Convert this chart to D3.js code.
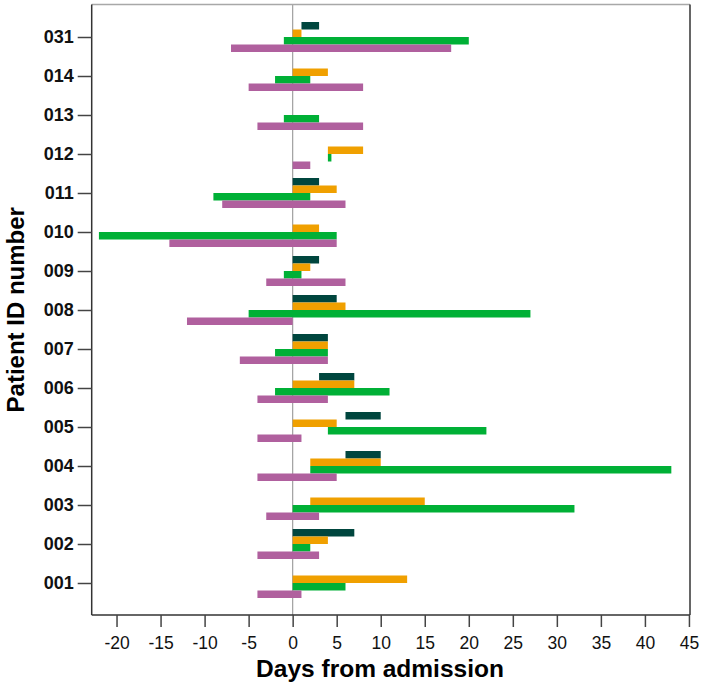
<!DOCTYPE html>
<html>
<head>
<meta charset="utf-8">
<script src="https://cdn.jsdelivr.net/npm/d3@7"></script>
<style>
  html, body { margin: 0; padding: 0; background: #fff; }
  svg { display: block; font-family: "Liberation Sans", Arial, sans-serif; }
</style>
</head>
<body>
<svg id="chart" width="703" height="689"></svg>
<script>
// ---- Data (bottom to top) ----
const patients = ["001","002","003","004","005","006","007","008","009","010","011","012","013","014","031"];
// [start, end] in days from admission; null = no bar
const seriesTeal   = [null,[0,7],null,[6,10],[6,10],[3,7],[0,4],[0,5],[0,3],null,[0,3],null,null,null,[1,3]];
const seriesOrange = [[0,13],[0,4],[2,15],[2,10],[0,5],[0,7],[0,4],[0,6],[0,2],[0,3],[0,5],[4,8],null,[0,4],[0,1]];
const seriesGreen  = [[0,6],[0,2],[0,32],[2,43],[4,22],[-2,11],[-2,4],[-5,27],[-1,1],[-22,5],[-9,2],[4,4.4],[-1,3],[-2,2],[-1,20]];
const seriesPurple = [[-4,1],[-4,3],[-3,3],[-4,5],[-4,1],[-4,4],[-6,4],[-12,0],[-3,6],[-14,5],[-8,6],[0,2],[-4,8],[-5,8],[-7,18]];
const seriesColors = ["#00463e", "#f0a000", "#00b036", "#b0609e"];
const xTicks = [-20,-15,-10,-5,0,5,10,15,20,25,30,35,40,45];

const allSeries = [seriesTeal, seriesOrange, seriesGreen, seriesPurple];

const svg = d3.select("#chart");
const pLeft = 91.7, pRight = 690, pTop = 4.5, pBottom = 615;

const x = d3.scaleLinear().domain([-22.82, 45.12]).range([pLeft, pRight]);
const y = d3.scalePoint().domain(patients).range([583, 37]);
const barH = 7.5;

// zero line
svg.append("line")
  .attr("x1", x(0)).attr("x2", x(0))
  .attr("y1", pTop).attr("y2", pBottom)
  .attr("stroke", "#a0a0a0").attr("stroke-width", 1.2);

// bars
allSeries.forEach((series, si) => {
  const rows = series.map((d, i) => ({ p: patients[i], v: d })).filter(r => r.v);
  svg.append("g").selectAll("rect")
    .data(rows)
    .join("rect")
    .attr("x", r => x(Math.min(r.v[0], r.v[1])))
    .attr("width", r => Math.abs(x(r.v[1]) - x(r.v[0])))
    .attr("y", r => y(r.p) - 15 + si * barH)
    .attr("height", barH)
    .attr("fill", seriesColors[si]);
});

// frame
svg.append("line").attr("x1", pLeft).attr("x2", pRight).attr("y1", pTop).attr("y2", pTop)
  .attr("stroke", "#a8a8a8").attr("stroke-width", 1.5);
svg.append("line").attr("x1", pRight).attr("x2", pRight).attr("y1", pTop).attr("y2", pBottom)
  .attr("stroke", "#333").attr("stroke-width", 1.5);
svg.append("line").attr("x1", pLeft).attr("x2", pLeft).attr("y1", pTop).attr("y2", pBottom)
  .attr("stroke", "#333").attr("stroke-width", 1.5);
svg.append("line").attr("x1", pLeft).attr("x2", pRight).attr("y1", pBottom).attr("y2", pBottom)
  .attr("stroke", "#333").attr("stroke-width", 1.5);

// x axis
const xAxis = svg.append("g")
  .attr("transform", `translate(0,${pBottom})`)
  .call(d3.axisBottom(x).tickValues(xTicks).tickFormat(d => String(d)).tickSize(12).tickPadding(10));
xAxis.select(".domain").remove();
xAxis.selectAll(".tick line").attr("stroke", "#444").attr("stroke-width", 1.5);
xAxis.selectAll(".tick text").attr("font-size", "17.5px").attr("fill", "#111")
  .attr("font-family", "'Liberation Sans', Arial, sans-serif");

// y axis
const yAxis = svg.append("g")
  .attr("transform", `translate(${pLeft},0)`)
  .call(d3.axisLeft(y).tickSize(14).tickPadding(4));
yAxis.select(".domain").remove();
yAxis.selectAll(".tick line").attr("stroke", "#444").attr("stroke-width", 1.5);
yAxis.selectAll(".tick text").attr("font-size", "18px").attr("font-weight", "bold").attr("fill", "#111")
  .attr("font-family", "'Liberation Sans', Arial, sans-serif");

// titles
svg.append("text")
  .attr("x", 380).attr("y", 677)
  .attr("text-anchor", "middle")
  .attr("font-size", "24.5px").attr("font-weight", "bold").attr("fill", "#000")
  .text("Days from admission");

svg.append("text")
  .attr("transform", `translate(24,${(pTop + pBottom) / 2}) rotate(-90)`)
  .attr("text-anchor", "middle")
  .attr("font-size", "24px").attr("font-weight", "bold").attr("fill", "#000")
  .text("Patient ID number");
</script>
</body>
</html>
